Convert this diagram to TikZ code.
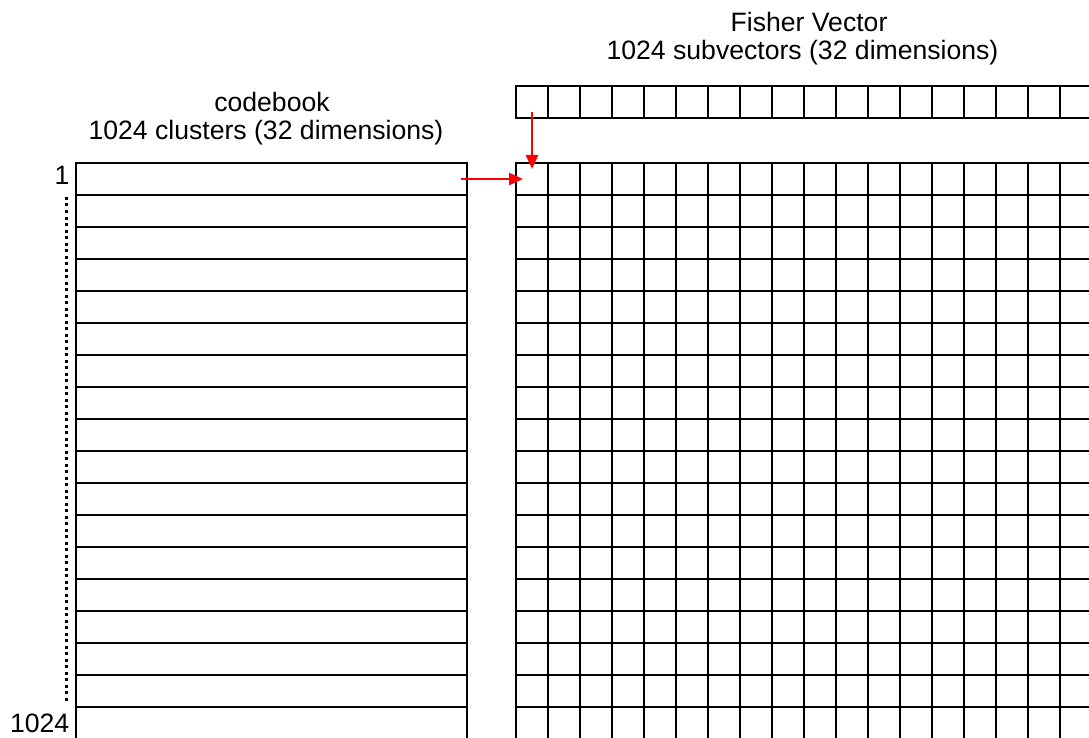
\documentclass[tikz,border=0pt]{standalone}
\usepackage{fontspec}
\setmainfont{Liberation Sans}
\usetikzlibrary{arrows.meta}
\begin{document}
\begin{tikzpicture}[x=1pt,y=-1pt,
  row/.style={draw=black,line width=2.5pt,minimum width=391pt,minimum height=32pt,inner sep=0pt,outer sep=0pt,anchor=north west},
  cell/.style={draw=black,line width=2.5pt,minimum width=32pt,minimum height=32pt,inner sep=0pt,outer sep=0pt,anchor=north west},
  lbl/.style={font=\fontsize{26.6}{28}\selectfont,inner sep=0pt},
  redarrow/.style={draw=red,line width=2.5pt,-{Triangle[length=14pt,width=12pt]}},
  dotline/.style={draw=black,line width=3pt,dash pattern=on 3pt off 3.5pt}]
\useasboundingbox (0,0) rectangle (1089,738);
\begin{scope}
\clip (0,0) rectangle (1089,738);
% codebook rows
\foreach \r in {1,...,19}
  \node[row] (cb\r) at (76,{163+32*(\r-1)}) {};
% Fisher vector bar
\foreach \c in {1,...,18}
  \node[cell] (fv\c) at ({516+32*(\c-1)},86) {};
% Fisher vector grid
\foreach \r in {1,...,19}
  \foreach \c in {1,...,18}
    \node[cell] (g\r-\c) at ({516+32*(\c-1)},{163+32*(\r-1)}) {};
\end{scope}
% titles
\node[lbl,anchor=base] (cbtitle) at (272,112) {codebook};
\node[lbl,anchor=base] (cbsub) at (266,140) {1024 clusters (32 dimensions)};
\node[lbl,anchor=base] (fvtitle) at (809,32) {Fisher Vector};
\node[lbl,anchor=base] (fvsub) at (802.5,60) {1024 subvectors (32 dimensions)};
% index labels
\node[lbl,anchor=base east] (first) at (69.5,185) {1};
\node[lbl,anchor=base east] (last) at (69.5,732) {1024};
\coordinate (dtop) at (66,197);
\coordinate (dbot) at (66,702);
\draw[dotline] (dtop) -- (dbot);
% arrows
\draw[redarrow] ([xshift=-6pt]cb1.east) -- ([xshift=7pt]g1-1.west);
\draw[redarrow] ([yshift=-10pt]fv1.center) -- ([yshift=-6pt]g1-1.north);
\end{tikzpicture}
\end{document}
